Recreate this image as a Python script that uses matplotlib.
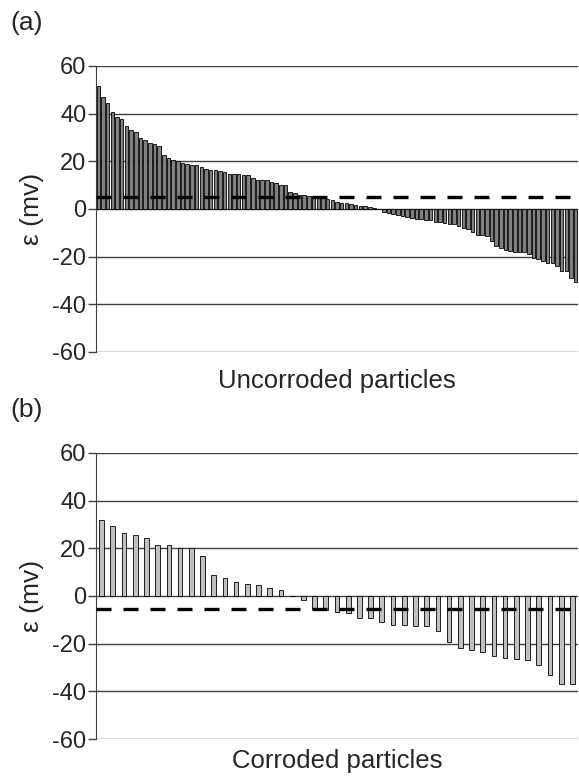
import numpy as np
import matplotlib.pyplot as plt

plt.rcParams['font.family'] = ['Liberation Sans', 'DejaVu Sans']
plt.rcParams['axes.unicode_minus'] = False

# (a) uncorroded particles, sorted epsilon values (mV)
eps_uncorroded = [51.8, 46.9, 44.4, 40.7, 38.6, 37.9, 34.8, 33.0, 32.1, 29.8,
                  28.9, 27.9, 27.3, 26.4, 22.6, 21.6, 20.4, 20.0, 19.2, 18.9,
                  18.5, 18.3, 17.8, 16.9, 16.5, 16.2, 16.1, 15.4, 14.7, 14.7,
                  14.6, 14.2, 14.1, 12.9, 12.1, 12.1, 12.0, 11.4, 10.8, 10.0,
                  10.0, 7.3, 6.7, 6.0, 6.0, 5.5, 5.5, 5.3, 5.3, 4.2,
                  3.6, 2.8, 2.5, 2.5, 2.2, 1.8, 1.4, 1.1, 0.7, 0.4,
                  0.0,
                  -1.3, -1.7, -2.1, -2.6, -3.1, -3.4, -3.7, -4.0, -4.2, -4.5,
                  -4.7, -5.6, -5.6, -5.8, -6.1, -6.5, -7.2, -7.9, -8.6, -9.7,
                  -10.7, -11.1, -11.4, -13.5, -15.6, -16.3, -17.0, -17.6, -18.1, -18.1,
                  -18.1, -19.0, -20.4, -21.1, -21.8, -22.5, -22.8, -23.9, -26.0, -26.2,
                  -28.8, -30.8]
mean_uncorroded = 5.2

# (b) corroded particles
eps_corroded = [32.0, 29.2, 26.5, 25.6, 24.4, 21.4, 21.4, 20.3, 20.3, 16.6,
                8.8, 7.4, 5.7, 5.2, 4.6, 3.2, 2.6, 0.0, -1.5, -5.5,
                -5.8, -6.6, -7.0, -9.1, -9.3, -10.8, -12.0, -12.3, -12.5, -12.5,
                -14.5, -19.3, -22.0, -22.5, -23.5, -25.0, -26.0, -26.5, -27.0, -29.0,
                -33.0, -37.0, -37.0]
mean_corroded = -5.3

yticks = [-60, -40, -20, 0, 20, 40, 60]
text_col = '#262626'


def panel(ax, vals, mean, color, width, xlabel, tag, xpad):
    x = np.arange(len(vals))
    ax.bar(x, vals, width=width, color=color, edgecolor='black',
           linewidth=0.6, zorder=3)
    ax.axhline(mean, color='black', lw=2.4, ls=(0, (4.5, 3.6)), zorder=4)
    ax.set_xlim(-0.5, len(vals) - 0.5)
    ax.set_ylim(-60, 60)
    ax.set_yticks(yticks)
    ax.set_xticks([])
    for yv in yticks:
        ax.axhline(yv, color='#404040', lw=1.0, zorder=1)
    for s in ['top', 'right', 'bottom']:
        ax.spines[s].set_visible(False)
    ax.spines['left'].set_color('#404040')
    ax.tick_params(axis='y', direction='out', length=6, width=1.0,
                   color='#404040', labelsize=17, labelcolor=text_col, pad=1)
    ax.set_ylabel('ε (mv)', fontsize=19, color=text_col, labelpad=6)
    ax.set_xlabel(xlabel, fontsize=18.5, color=text_col, labelpad=xpad)
    ax.text(-0.178, 1.108, tag, transform=ax.transAxes, fontsize=19,
            color=text_col, ha='left', va='bottom')


fig = plt.figure(figsize=(5.79, 7.76), dpi=100)
ax1 = fig.add_axes([96 / 579, 1 - 352 / 776, 482 / 579, 286 / 776])
ax2 = fig.add_axes([96 / 579, 1 - 739 / 776, 482 / 579, 286 / 776])

panel(ax1, eps_uncorroded, mean_uncorroded, '#808080', 0.75,
      'Uncorroded particles', '(a)', 12)
panel(ax2, eps_corroded, mean_corroded, '#c0c0c0', 0.42,
      'Corroded particles', '(b)', 7)

fig.savefig('out.png', dpi=100)
